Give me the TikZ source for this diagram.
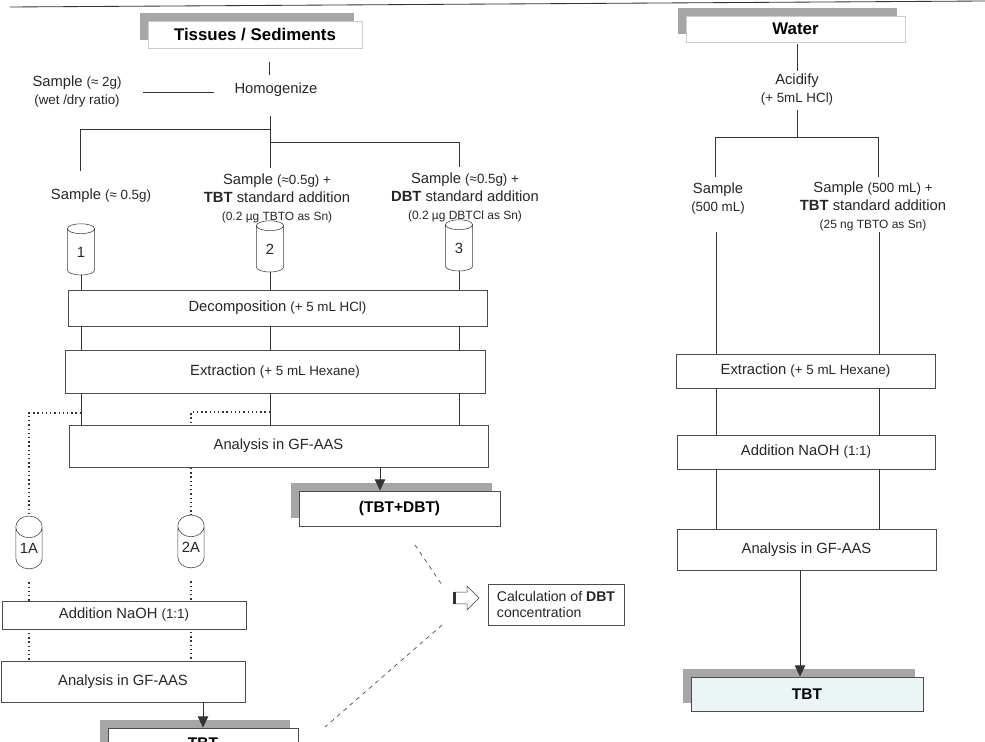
\documentclass[tikz,border=0pt]{standalone}
\usepackage{fontspec}
\setmainfont{Liberation Sans}
\usetikzlibrary{positioning, shapes.geometric, shapes.arrows, shadows, arrows.meta, backgrounds}

\newcommand{\sm}[1]{{\fontsize{9.5}{11}\selectfont #1}}
\newcommand{\tn}[1]{{\fontsize{8.5}{10}\selectfont #1}}

\begin{document}
\begin{tikzpicture}[x=0.025cm, y=-0.025cm,
    font=\fontsize{10.5}{12.8}\selectfont, text=black!85,
    sz/.style 2 args={minimum width=#1*0.025cm, minimum height=#2*0.025cm},
    wire/.style={draw=black!80, line width=0.6pt},
    dots/.style={draw=black!80, dotted, line width=1pt},
    hint/.style={draw=black!70, dashed, line width=0.5pt},
    box/.style={draw=black!70, line width=0.6pt, fill=white, inner sep=0pt},
    head/.style={box, draw=black!20, text=black, font=\fontsize{12}{14}\selectfont\bfseries,
      general shadow={fill=black!35, shadow xshift=-0.2cm, shadow yshift=0.2cm}},
    result/.style={box, text=black, font=\fontsize{11}{13}\selectfont\bfseries,
      general shadow={fill=black!35, shadow xshift=-0.2cm, shadow yshift=0.2cm}},
    tube/.style={cylinder, shape border rotate=90, draw=black!75, fill=white, aspect=1.2,
      minimum width=0.68cm, minimum height=1.28cm, inner sep=0pt},
    note/.style={align=center, inner sep=1pt},
    >={Triangle[length=0.28cm, width=0.26cm]}]

  \clip (0,0) rectangle (985,742);
  \useasboundingbox (0,0) rectangle (985,742);

  % left column: tissues / sediments
  \node[head, sz={214}{27}] (tis) at (255,34.5) {Tissues / Sediments};
  \node (hom) at (276,90) {Homogenize};
  \node[note] (s2g) at (77,92) {Sample \sm{(≈ 2g)}\\\sm{(wet /dry ratio)}};
  \node[note] (s1) at (101,196) {Sample \sm{(≈ 0.5g)}};
  \node[note] (s2) at (277,198) {Sample \sm{(≈0.5g) +}\\\textbf{TBT} standard addition\\\tn{(0.2 µg TBTO as Sn)}};
  \node[note] (s3) at (465,197) {Sample \sm{(≈0.5g) +}\\\textbf{DBT} standard addition\\\tn{(0.2 µg DBTCl as Sn)}};
  \node[tube] (c1) at (81,252) {1};
  \node[tube] (c2) at (270,249) {2};
  \node[tube] (c3) at (459,248) {3};
  \node[box, sz={419}{36}] (dec) at (277.5,308) {Decomposition \sm{(+ 5 mL HCl)}};
  \node[box, sz={420}{43}] (ext) at (275,371.5) {Extraction \sm{(+ 5 mL Hexane)}};
  \node[box, sz={419}{42}] (ana) at (278.5,446) {Analysis in GF-AAS};
  \node[result, sz={201}{35}] (sum) at (399.5,508.5) {(TBT+DBT)};
  \node[tube, minimum width=0.66cm, minimum height=1.32cm] (c1a) at (29,548) {1A};
  \node[tube, minimum width=0.66cm, minimum height=1.32cm] (c2a) at (191,547) {2A};
  \node[box, sz={244}{28}] (nao) at (124,615) {Addition NaOH \sm{(1:1)}};
  \node[box, sz={244}{41}] (an2) at (123,681.5) {Analysis in GF-AAS};
  \node[result, sz={190}{30}] (tbt) at (203,743) {TBT};

  % calculation of DBT
  \node[single arrow, draw=black!80, fill=white, inner sep=0.14cm, minimum height=0.6cm,
        single arrow head extend=0.15cm] (harr) at (464,598) {};
  \node[box, align=left, sz={136}{41}, inner sep=2pt, font=\fontsize{10}{12}\selectfont] (calc) at (556,604.5)
    {Calculation of \textbf{DBT}\\concentration};

  % right column: water
  \node[head, sz={219}{26}] (wat) at (795.5,29) {Water};
  \node[note] (aci) at (797,90) {Acidify\\\sm{(+ 5mL HCl)}};
  \node[note] (w1) at (718,199) {Sample\\\sm{(500 mL)}};
  \node[note] (w2) at (873,206) {Sample \sm{(500 mL) +}\\\textbf{TBT} standard addition\\\tn{(25 ng TBTO as Sn)}};
  \node[box, sz={259}{34}] (wext) at (805.5,371) {Extraction \sm{(+ 5 mL Hexane)}};
  \node[box, sz={258}{34}] (wnao) at (806,452) {Addition NaOH \sm{(1:1)}};
  \node[box, sz={259}{41}] (wana) at (806.5,549.5) {Analysis in GF-AAS};
  \node[result, fill=teal!8, sz={232}{34}] (wtbt) at (807,694) {TBT};

  \coordinate (r1) at (10,7);
  \coordinate (r2) at (985,1);
  \coordinate (t1) at (269,62);
  \coordinate (t2) at (269,75);
  \coordinate (br) at (270,116);
  \coordinate (ja) at (270,129);
  \coordinate (jb) at (270,142);
  \coordinate (e1) at (80,171);
  \coordinate (e2) at (270,168);
  \coordinate (e3) at (459,167);
  \coordinate (d1) at (81,413);
  \coordinate (d2) at (270,412);
  \coordinate (ka) at (380,0);
  \coordinate (kb) at (800,0);
  \coordinate (h1) at (415,545);
  \coordinate (h2) at (442,585);
  \coordinate (h3) at (442,625);
  \coordinate (h4) at (325,727);
  \coordinate (u1) at (797,44);
  \coordinate (u2) at (797,71);
  \coordinate (u3) at (797,110);
  \coordinate (u4) at (797,137);
  \coordinate (f1) at (715,177);
  \coordinate (f2) at (878,177);
  \coordinate (g1) at (716,232);
  \coordinate (g2) at (879,232);

  \draw[wire] (r1) -- (r2);
  \draw[wire] (t1) -- (t2);
  \draw[wire] (s2g.east -| 143,0) -- (s2g.east -| 214,0);
  \draw[wire] (br) -- (e2);
  \draw[wire] (ja) -| (e1);
  \draw[wire] (jb) -| (e3);
  \foreach \c in {c1,c2,c3} {
    \draw[wire] (\c.south) -- (\c |- dec.north);
    \draw[wire] (dec.south -| \c) -- (ext.north -| \c);
    \draw[wire] (ext.south -| \c) -- (ana.north -| \c);
  }
  \begin{scope}[on background layer]
    \draw[dots] (d1) -| (c1a.north);
    \draw[dots] (d2) -| (c2a.north);
    \draw[dots] ([yshift=-0.33cm]c1a.south) -- (c1a |- an2.north);
    \draw[dots] ([yshift=-0.33cm]c2a.south) -- (c2a |- an2.north);
  \end{scope}
  \draw[wire, ->] (ana.south -| ka) -- (sum.north -| ka);
  \draw[wire, ->] (an2.south -| tbt) -- (tbt.north);
  \draw[line width=2pt, draw=black!80] (harr.before tail) -- (harr.after tail);
  \draw[hint] (h1) -- (h2);
  \draw[hint] (h3) -- (h4);

  \draw[wire] (u1) -- (u2);
  \draw[wire] (u3) -- (u4);
  \draw[wire] (u4) -| (f1);
  \draw[wire] (u4) -| (f2);
  \foreach \g in {g1,g2} {
    \draw[wire] (\g) -- (\g |- wext.north);
    \draw[wire] (wext.south -| \g) -- (wnao.north -| \g);
    \draw[wire] (wnao.south -| \g) -- (wana.north -| \g);
  }
  \draw[wire, ->] (wana.south -| kb) -- (wtbt.north -| kb);
\end{tikzpicture}
\end{document}
